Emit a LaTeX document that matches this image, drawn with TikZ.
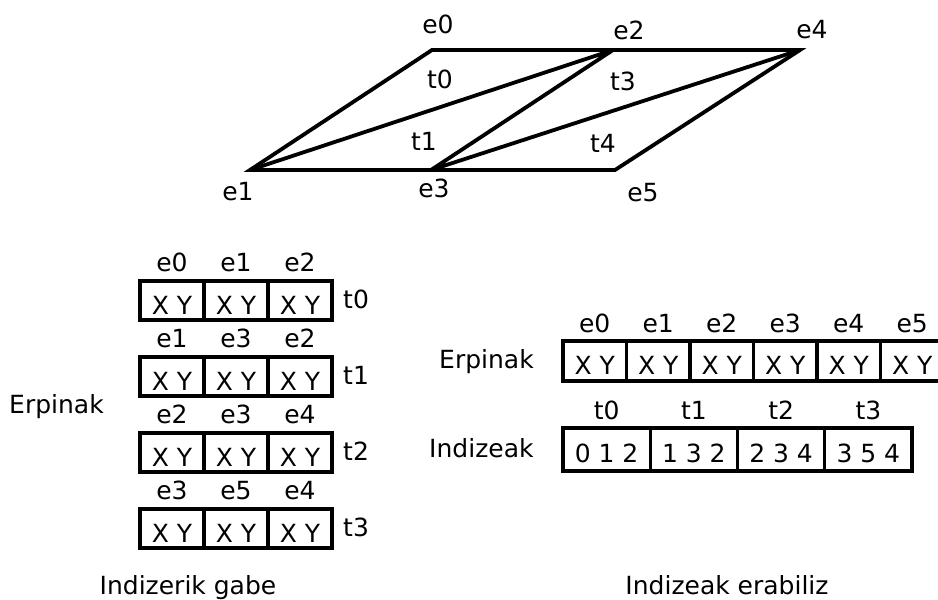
\documentclass[tikz,border=0pt]{standalone}
\usepackage{fontspec}
\setmainfont{DejaVu Sans}
\begin{document}
\begin{tikzpicture}[x=1pt,y=-1pt,
  font=\fontsize{25}{29}\selectfont,
  lbl/.style={inner sep=0pt},
  blbl/.style={inner sep=0pt, anchor=base},
  edge/.style={line width=3.8pt, line join=miter},
  cell/.style={draw, line width=3.2pt, minimum width=64pt, minimum height=39pt, inner sep=0pt, text height=27pt, text depth=0pt},
  rcell/.style={draw, line width=3.2pt, minimum width=63.5pt, minimum height=40pt, inner sep=0pt, text height=27pt, text depth=0pt},
  icell/.style={draw, line width=3.2pt, minimum width=87.25pt, minimum height=43pt, inner sep=0pt, text height=25pt, text depth=0pt}]
\useasboundingbox (0,0) rectangle (938,600);
% mesh vertices
\coordinate (v0) at (432,50);
\coordinate (v2) at (613,50);
\coordinate (v4) at (800,50);
\coordinate (v1) at (250,170);
\coordinate (v3) at (431,170);
\coordinate (v5) at (615,170);
\draw[edge] (v1) -- (v0) -- (v2) -- (v4) -- (v5) -- (v3) -- cycle;
\draw[edge, line join=bevel] (v1) -- (v2) -- (v3) -- (v4);
% mesh labels
\node[lbl] (le0) at (438,24) {e0};
\node[lbl] (le2) at (629,30) {e2};
\node[lbl] (le4) at (812,30) {e4};
\node[lbl] (le1) at (238,192) {e1};
\node[lbl] (le3) at (434,188) {e3};
\node[lbl] (le5) at (643,193) {e5};
\node[lbl] (lt0) at (440,79) {t0};
\node[lbl] (lt3) at (623,81) {t3};
\node[lbl] (lt1) at (424,141) {t1};
\node[lbl] (lt4) at (603,143) {t4};
% left tables
\foreach \r/\top/\a/\b/\c in {0/281/e0/e1/e2, 1/357/e1/e3/e2, 2/433/e2/e3/e4, 3/509/e3/e5/e4}{
  \foreach \k in {0,1,2}{
    \node[cell] (L\r c\k) at (172+64*\k, \top+19.5) {X Y};
  }
  \node[blbl] (La\r) at (172, \top-10) {\a};
  \node[blbl] (Lb\r) at (236, \top-10) {\b};
  \node[blbl] (Lc\r) at (300, \top-10) {\c};
  \node[blbl, anchor=base west] (Lt\r) at (343, \top+27) {t\r};
}
\node[blbl, anchor=base west] (erpL) at (9,413) {Erpinak};
\node[blbl] (capL) at (188,594) {Indizerik gabe};
% right vertex table
\foreach \k in {0,...,5}{
  \node[rcell] (R\k) at (594.75+63.5*\k, 361) {X Y};
  \node[blbl] (Re\k) at (594.75+63.5*\k, 332) {e\k};
}
\node[blbl, anchor=base west] (erpR) at (439,368) {Erpinak};
% index table
\foreach \k/\t in {0/0 1 2, 1/1 3 2, 2/2 3 4, 3/3 5 4}{
  \node[icell] (I\k) at (606.6+87.25*\k, 449.5) {\t};
  \node[blbl] (It\k) at (606.6+87.25*\k, 419) {t\k};
}
\node[blbl, anchor=base west] (indR) at (429,457) {Indizeak};
\node[blbl] (capR) at (727,594) {Indizeak erabiliz};
\end{tikzpicture}
\end{document}
